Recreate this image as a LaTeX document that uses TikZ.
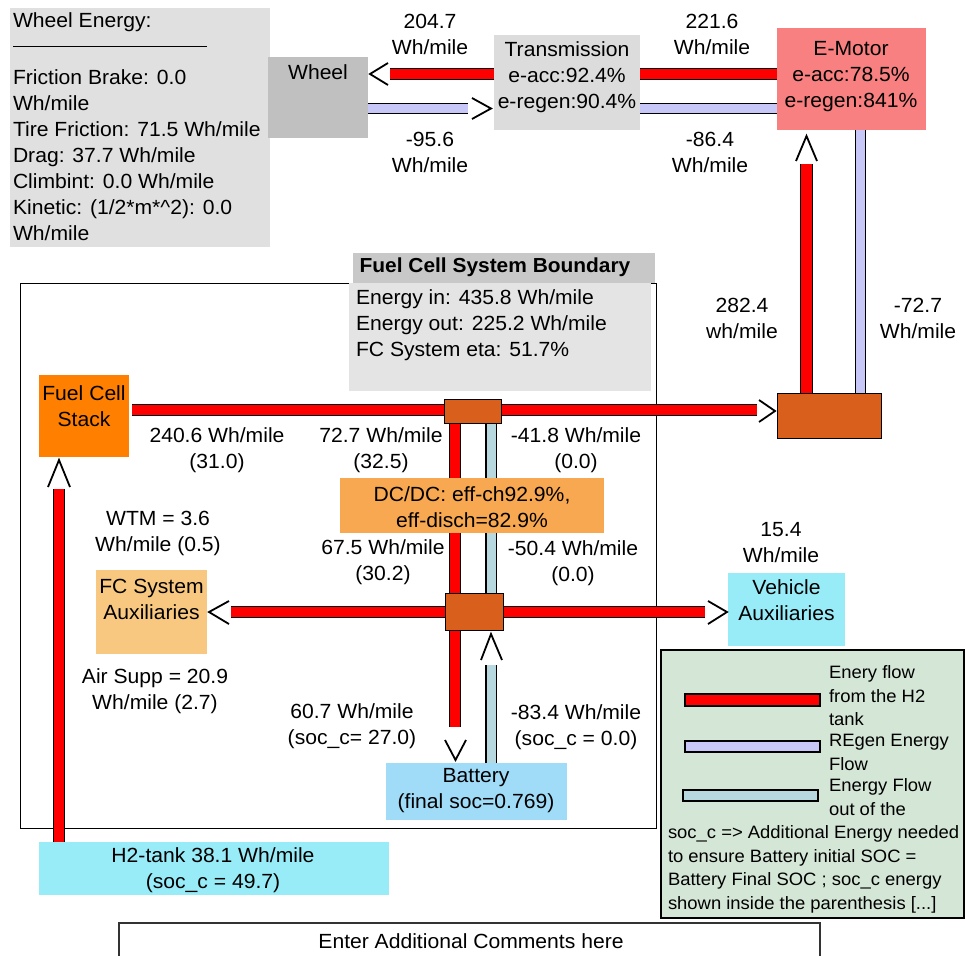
\documentclass[tikz,border=0pt]{standalone}
\usepackage{fontspec}
\setmainfont[FakeStretch=1.03]{Liberation Sans}
\definecolor{wegray}{HTML}{E0E0E0}
\definecolor{wheelgray}{HTML}{C0C0C0}
\definecolor{transgray}{HTML}{DCDCDC}
\definecolor{emotor}{HTML}{F88080}
\definecolor{junccol}{HTML}{D8601C}
\definecolor{fcstack}{HTML}{FF8000}
\definecolor{dcdc}{HTML}{F8A850}
\definecolor{fcaux}{HTML}{F8C880}
\definecolor{cyanbox}{HTML}{98ECF8}
\definecolor{battcol}{HTML}{A0DCF8}
\definecolor{titlegray}{HTML}{C8C8C8}
\definecolor{infogray}{HTML}{E4E4E4}
\definecolor{legcol}{HTML}{D4E6D6}
\definecolor{lav}{HTML}{C8C8F8}
\definecolor{lblue}{HTML}{B8D8E0}
\begin{document}
\begin{tikzpicture}[x=1pt,y=-1pt,
  every node/.style={inner sep=0pt, outer sep=0pt, font=\fontsize{20.5}{26}\selectfont},
  box/.style={anchor=north west, inner sep=0pt, outer sep=0pt},
  lc/.style={align=center},
  ll/.style={align=left, anchor=west},
  leg/.style={align=left, anchor=west, font=\fontsize{17.9}{23.5}\selectfont},
  redbar/.style={draw=black, line width=1.2pt, double=red, double distance=10.5pt},
  lavbar/.style={draw=black, line width=1.2pt, double=lav, double distance=9pt},
  bluebar/.style={draw=black, line width=1.2pt, double=lblue, double distance=9pt},
  chev/.style={draw=black, line width=1.8pt, line join=miter},
  junc/.style={box, draw=black, line width=0.8pt, fill=junccol},
]
\useasboundingbox (0,0) rectangle (965,955);
\fill[white] (0,0) rectangle (965,955);

% fuel cell system boundary
\node[box, draw=black, line width=1pt, minimum width=636, minimum height=545] (fcsb) at (20,283) {};
\node[box, fill=titlegray, minimum width=302, minimum height=30] (fctitle) at (353,253) {};
\node[font=\fontsize{20.3}{26}\selectfont\bfseries] (fctitletxt) at (495,267) {Fuel Cell System Boundary};
\node[box, fill=infogray, minimum width=302, minimum height=108] (info) at (349,283) {};
\node[ll] (infotxt) at (356,325.5) {Energy in: 435.8 Wh/mile\\Energy out: 225.2 Wh/mile\\FC System eta: 51.7\%};

% wheel energy box
\node[box, fill=wegray, minimum width=260, minimum height=239] (webox) at (10,8) {};
\node[anchor=west] (wetitle) at (13,22) {Wheel Energy:};
\draw[line width=1pt] (13,47) coordinate (rulea) -- (207,47) coordinate (ruleb);
\node[ll] (welines) at (13,155) {Friction Brake: 0.0\\Wh/mile\\Tire Friction: 71.5 Wh/mile\\Drag: 37.7 Wh/mile\\Climbint: 0.0 Wh/mile\\Kinetic: (1/2*m*\textasciicircum 2): 0.0\\Wh/mile};

% boxes
\node[box, fill=wheelgray, minimum width=100, minimum height=81] (wheel) at (268,57) {};
\node (wheeltxt) at (318,72) {Wheel};
\node[box, fill=transgray, minimum width=146, minimum height=95] (trans) at (494,35) {};
\node[lc] (transtxt) at (567,77) {Transmission\\e-acc:92.4\%\\e-regen:90.4\%};
\node[box, fill=emotor, minimum width=149, minimum height=102] (emot) at (777,28) {};
\node[lc] (emottxt) at (851,77) {E-Motor\\e-acc:78.5\%\\e-regen:841\%};
\node[box, fill=fcstack, minimum width=90, minimum height=82] (stack) at (39,375) {};
\node[lc] (stacktxt) at (84,406) {Fuel Cell\\Stack};
\node[box, fill=fcaux, minimum width=111, minimum height=84] (fcaux) at (96,570) {};
\node[lc] (fcauxtxt) at (151.5,599) {FC System\\Auxiliaries};
\node[box, fill=cyanbox, minimum width=117, minimum height=73] (vaux) at (728,573) {};
\node[lc] (vauxtxt) at (786.5,600.5) {Vehicle\\Auxiliaries};
\node[box, fill=battcol, minimum width=181, minimum height=57] (batt) at (386,763) {};
\node[lc] (batttxt) at (476,790.5) {Battery\\(final soc=0.769)};
\node[box, fill=cyanbox, minimum width=350, minimum height=53] (h2) at (39,842) {};
\node[lc] (h2txt) at (213,870) {H2-tank 38.1 Wh/mile\\(soc\_c = 49.7)};

% bars
\coordinate (a1) at (494,74);   \coordinate (a2) at (390,74);
\coordinate (b1) at (640,74);   \coordinate (b2) at (777,74);
\coordinate (c1) at (368,108.5);\coordinate (c2) at (468,108.5);
\coordinate (d1) at (640,108.5);\coordinate (d2) at (777,108.5);
\coordinate (e1) at (806.5,393);\coordinate (e2) at (806.5,164);
\coordinate (f1) at (860.5,130);\coordinate (f2) at (860.5,393);
\coordinate (g1) at (132,410);  \coordinate (g2) at (757,410);
\coordinate (h1) at (455,423);  \coordinate (h2) at (455,593);
\coordinate (i1) at (491,423);  \coordinate (i2) at (491,593);
\coordinate (j1) at (231,612);  \coordinate (j2) at (705,612);
\coordinate (k1) at (455,630);  \coordinate (k2) at (455,727);
\coordinate (l1) at (491,763);  \coordinate (l2) at (491,665);
\coordinate (m1) at (59,842);   \coordinate (m2) at (59,489);
\draw[redbar] (a1) -- (a2);
\draw[redbar] (b1) -- (b2);
\draw[lavbar] (c1) -- (c2);
\draw[lavbar] (d1) -- (d2);
\draw[redbar] (e1) -- (e2);
\draw[lavbar] (f1) -- (f2);
\draw[redbar] (g1) -- (g2);
\draw[redbar] (h1) -- (h2);
\draw[bluebar] (i1) -- (i2);
\draw[redbar] (j1) -- (j2);
\draw[redbar] (k1) -- (k2);
\draw[bluebar] (l1) -- (l2);
\draw[redbar] (m1) -- (m2);

% junctions
\node[junc, minimum width=104, minimum height=45] (jright) at (777,393) {};
\node[junc, minimum width=57, minimum height=24] (jtop) at (444,399) {};
\node[junc, minimum width=58, minimum height=37] (jbot) at (445,593) {};
\node[box, fill=dcdc, minimum width=264, minimum height=55] (dcdc) at (340,478) {};
\node[lc] (dcdctxt) at (472,507) {DC/DC: eff-ch92.9\%,\\eff-disch=82.9\%};

% chevrons
\draw[chev] (388,63) -- (370,74) -- (388,85);
\draw[chev] (472,98) -- (491,108.5) -- (472,119);
\draw[chev] (796,161) -- (806.5,136) -- (817,161);
\draw[chev] (759,400) -- (775,411) -- (759,422);
\draw[chev] (229,601) -- (209,612) -- (229,624);
\draw[chev] (708,601) -- (727,612) -- (708,624);
\draw[chev] (445,740) -- (455.5,760) -- (466,740);
\draw[chev] (481,660) -- (491,634) -- (502,660);
\draw[chev] (48,487) -- (59,460) -- (70,487);

% labels
\node[lc] (l2047) at (430,34.5) {204.7\\Wh/mile};
\node[lc] (l956) at (430,152.5) {-95.6\\Wh/mile};
\node[lc] (l2216) at (712,34.5) {221.6\\Wh/mile};
\node[lc] (l864) at (710,152) {-86.4\\Wh/mile};
\node[lc] (l2824) at (742,318) {282.4\\wh/mile};
\node[lc] (l727) at (918,318) {-72.7\\Wh/mile};
\node[lc] (l2406) at (217,450.5) {240.6 Wh/mile\\(31.0)};
\node[lc] (l727b) at (381,450.5) {72.7 Wh/mile\\(32.5)};
\node[lc] (l418) at (576,450.5) {-41.8 Wh/mile\\(0.0)};
\node[lc] (l675) at (383,562.5) {67.5 Wh/mile\\(30.2)};
\node[lc] (l504) at (573,563) {-50.4 Wh/mile\\(0.0)};
\node[lc] (lwtm) at (158,533) {WTM = 3.6\\Wh/mile (0.5)};
\node[lc] (l154) at (781,542.5) {15.4\\Wh/mile};
\node[lc] (lair) at (155,691) {Air Supp = 20.9\\Wh/mile (2.7)};
\node[lc] (l607) at (352,726.5) {60.7 Wh/mile\\(soc\_c= 27.0)};
\node[lc] (l834) at (576,727) {-83.4 Wh/mile\\(soc\_c = 0.0)};

% legend
\node[box, fill=legcol, draw=black, line width=1.2pt, minimum width=303, minimum height=268] (legend) at (661,650) {};
\node[box, draw=black, line width=1.2pt, fill=red, minimum width=135, minimum height=12] (lgred) at (685,694) {};
\node[box, draw=black, line width=1.2pt, fill=lav, minimum width=135, minimum height=11] (lglav) at (685,741) {};
\node[box, draw=black, line width=1.2pt, fill=lblue, minimum width=135, minimum height=11] (lgblue) at (683,790) {};
\node[leg] (lgredtxt) at (829,696) {Enery flow\\from the H2\\tank};
\node[leg] (lglavtxt) at (829,752.5) {REgen Energy\\Flow};
\node[leg] (lgbluetxt) at (829,797) {Energy Flow\\out of the};
\node[leg] (lgsoc) at (668,869.5) {soc\_c => Additional Energy needed\\to ensure Battery initial SOC =\\Battery Final SOC ; soc\_c energy\\shown inside the parenthesis [...]};

% comments
\node[box, draw=black!80, line width=1.5pt, minimum width=701, minimum height=50] (comments) at (119,923) {};
\node (commtxt) at (471,941) {Enter Additional Comments here};
\end{tikzpicture}
\end{document}
